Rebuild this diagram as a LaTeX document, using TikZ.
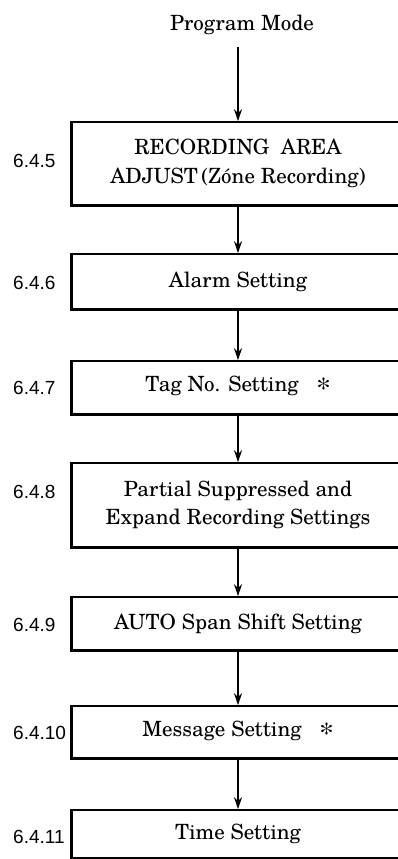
\documentclass[tikz,border=0pt]{standalone}
\usepackage{fontspec}
\setmainfont{TeX Gyre Schola}
\newfontfamily\labfont{Liberation Sans}
\usetikzlibrary{arrows.meta}
\newcommand{\bigast}{{\fontsize{28}{28}\selectfont\raisebox{-7pt}{*}}}
\begin{document}
\begin{tikzpicture}[x=1pt,y=1pt,
  box/.style={draw, line width=1.6pt, minimum width=332pt, align=center, inner sep=0pt,
    font=\fontsize{21}{28.5}\selectfont},
  lab/.style={anchor=west, inner sep=0pt, font=\labfont\fontsize{19}{20}\selectfont},
  flow/.style={line width=1.3pt, -{Stealth[length=12pt,width=8pt,inset=4pt]}}]
\useasboundingbox (0,0) rectangle (398,-859);
\clip (0,0) rectangle (398,-859);
\fill[white] (0,0) rectangle (398,-859);

\node[font=\fontsize{21}{24}\selectfont, inner sep=2pt] (pm) at (242,-25) {Program Mode};

\node[box, minimum height=83pt] (b1) at (238,-163.5) {RECORDING\ \ AREA\\ADJUST\,(Zóne Recording)};
\node[box, minimum height=55pt] (b2) at (238,-281.5) {Alarm Setting};
\node[box, minimum height=53pt] (b3) at (238,-387.5) {Tag No. Setting\hspace{18pt}\bigast};
\node[box, minimum height=84pt] (b4) at (238,-505) {Partial Suppressed and\\Expand Recording Settings};
\node[box, minimum height=53pt] (b5) at (238,-623.5) {AUTO Span Shift Setting};
\node[box, minimum height=52pt] (b6) at (238,-732) {Message Setting\hspace{18pt}\bigast};
\node[box, minimum height=48pt] (b7) at (238,-834) {Time Setting};

\foreach \b in {b1,b2,b3,b4,b5,b6,b7}{
  \draw[line width=3pt] (\b.north west) -- (\b.south west) -- (\b.south east);
}

\node[lab] (l1) at (13,-161) {6.4.5};
\node[lab] (l2) at (13,-283) {6.4.6};
\node[lab] (l3) at (13,-388) {6.4.7};
\node[lab] (l4) at (13,-492) {6.4.8};
\node[lab] (l5) at (13,-625) {6.4.9};
\node[lab] (l6) at (13,-733) {6.4.10};
\node[lab] (l7) at (13,-837) {6.4.11};

\draw[flow] (238,-47) -- (b1.north);
\draw[flow] (b1.south) -- (b2.north);
\draw[flow] (b2.south) -- (b3.north);
\draw[flow] (b3.south) -- (b4.north);
\draw[flow] (b4.south) -- (b5.north);
\draw[flow] (b5.south) -- (b6.north);
\draw[flow] (b6.south) -- (b7.north);
\end{tikzpicture}
\end{document}
